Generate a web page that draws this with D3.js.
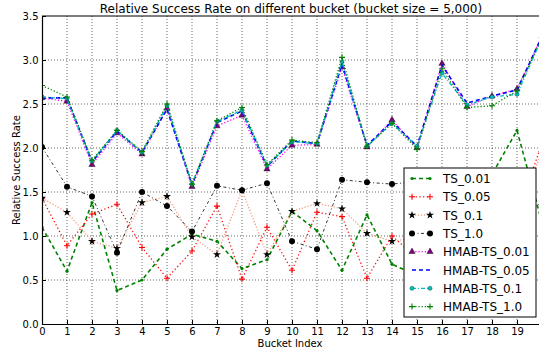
<!DOCTYPE html>
<html>
<head>
<meta charset="utf-8">
<script src="https://cdn.jsdelivr.net/npm/d3@7"></script>
<style>
  body { margin: 0; background: #fff; }
  text { font-family: "DejaVu Sans", sans-serif; }
</style>
</head>
<body>
<div id="chart"></div>
<script>
// bucket indices 0..20
const buckets = d3.range(0, 21);
const xTicks = d3.range(0, 20);
const yTicks = [0, 0.5, 1.0, 1.5, 2.0, 2.5, 3.0, 3.5];

const seriesNames = ["TS_0.01", "TS_0.05", "TS_0.1", "TS_1.0",
  "HMAB-TS_0.01", "HMAB-TS_0.05", "HMAB-TS_0.1", "HMAB-TS_1.0"];

const ts001 = [1.10, 0.60, 1.38, 0.38, 0.50, 0.85, 1.02, 0.94, 0.63, 0.73, 1.28, 1.06, 0.61, 1.24, 0.68, 0.55, 0.95, 1.25, 1.70, 2.20, 1.15];
const ts005 = [1.43, 0.89, 1.25, 1.36, 0.87, 0.52, 0.83, 1.34, 0.51, 1.10, 0.61, 1.27, 1.22, 0.52, 1.00, 0.75, 1.10, 0.90, 1.05, 1.25, 2.05];
const ts01 = [1.43, 1.27, 0.94, 0.86, 1.38, 1.45, 0.99, 0.79, 1.52, 0.79, 1.28, 1.37, 1.31, 1.03, 0.94, 0.98, 1.20, 1.05, 1.15, 1.30, 1.95];
const ts10 = [2.01, 1.56, 1.45, 0.81, 1.50, 1.34, 1.05, 1.57, 1.52, 1.60, 0.94, 0.85, 1.64, 1.61, 1.59, 1.62, 1.40, 1.50, 1.45, 1.40, 1.35];
const hmab001 = [2.57, 2.53, 1.81, 2.17, 1.93, 2.45, 1.56, 2.25, 2.37, 1.76, 2.03, 2.04, 2.92, 2.01, 2.32, 2.00, 2.96, 2.47, 2.59, 2.67, 3.27];
const hmab005 = [2.57, 2.57, 1.84, 2.19, 1.95, 2.44, 1.58, 2.29, 2.42, 1.79, 2.08, 2.05, 2.95, 2.03, 2.30, 2.02, 2.94, 2.51, 2.59, 2.66, 3.27];
const hmab01 = [2.58, 2.56, 1.85, 2.20, 1.95, 2.48, 1.59, 2.30, 2.43, 1.80, 2.07, 2.05, 2.98, 2.02, 2.28, 2.02, 2.85, 2.49, 2.58, 2.61, 3.25];
const hmab10 = [2.71, 2.58, 1.86, 2.20, 1.96, 2.50, 1.59, 2.31, 2.46, 1.81, 2.09, 2.06, 3.03, 2.02, 2.28, 1.99, 2.90, 2.46, 2.48, 2.65, 3.25];

const seriesValues = [ts001, ts005, ts01, ts10, hmab001, hmab005, hmab01, hmab10];

// line + marker styles, in the same order as seriesNames
const styles = [
  { stroke: "#008000", dash: "4,3", width: 1.6, marker: "dot", fill: "#008000" },
  { stroke: "#ff0000", dash: "1.2,2.5", width: 1.3, marker: "plus", fill: "#ff0000" },
  { stroke: "#f69a7a", dash: "1.2,1.8", width: 1.3, marker: "star", fill: "#000" },
  { stroke: "#333", dash: "3,2.5,1,2.5", width: 1.0, marker: "circle", fill: "#000" },
  { stroke: "#ff00ff", dash: "1.2,2", width: 1.3, marker: "triangle", fill: "#800080" },
  { stroke: "#0000ff", dash: "4,3", width: 1.6, marker: "none", fill: "#0000ff" },
  { stroke: "#00bfbf", dash: "4,2,1,2", width: 1.3, marker: "smallcircle", fill: "#00bfbf" },
  { stroke: "#008000", dash: "1.2,2", width: 1.3, marker: "plus", fill: "#008000" }
];

const W = 539, H = 354;
const margin = { left: 42, top: 16 };
const plotW = 500, plotH = 308;

const svg = d3.select("#chart").append("svg")
  .attr("width", W)
  .attr("height", H);

const x = d3.scaleLinear().domain([0, 20]).range([margin.left, margin.left + plotW]);
const y = d3.scaleLinear().domain([0, 3.5]).range([margin.top + plotH, margin.top]);

svg.append("defs").append("clipPath").attr("id", "plotclip")
  .append("rect")
  .attr("x", margin.left).attr("y", margin.top)
  .attr("width", plotW).attr("height", plotH);

// grid
const grid = svg.append("g");
grid.selectAll("line.vx").data(xTicks.slice(1)).enter().append("line")
  .attr("x1", d => x(d)).attr("x2", d => x(d))
  .attr("y1", margin.top).attr("y2", margin.top + plotH)
  .attr("stroke", "#000").attr("stroke-width", 0.6).attr("stroke-dasharray", "1,2");
grid.selectAll("line.hy").data(yTicks.slice(1, -1)).enter().append("line")
  .attr("y1", d => y(d)).attr("y2", d => y(d))
  .attr("x1", margin.left).attr("x2", margin.left + plotW)
  .attr("stroke", "#000").attr("stroke-width", 0.6).attr("stroke-dasharray", "1,2");

function drawMarker(g, type, fill) {
  if (type === "dot") {
    g.append("circle").attr("r", 1.6).attr("fill", fill);
  } else if (type === "circle") {
    g.append("circle").attr("r", 3).attr("fill", fill);
  } else if (type === "smallcircle") {
    g.append("circle").attr("r", 2.1).attr("fill", fill).attr("stroke", "#000").attr("stroke-width", 0.3);
  } else if (type === "plus") {
    g.append("path").attr("d", "M-3,0H3M0,-3V3").attr("stroke", fill).attr("stroke-width", 1.1);
  } else if (type === "star") {
    g.append("path").attr("d", d3.symbol(d3.symbolStar, 20)()).attr("fill", fill);
  } else if (type === "triangle") {
    g.append("path").attr("d", d3.symbol(d3.symbolTriangle, 17)()).attr("fill", fill).attr("stroke", "#000").attr("stroke-width", 0.4);
  }
}

const plot = svg.append("g").attr("clip-path", "url(#plotclip)");
const line = d3.line().x((d, i) => x(buckets[i])).y(d => y(d));

seriesValues.forEach((vals, k) => {
  const st = styles[k];
  const g = plot.append("g");
  g.append("path").datum(vals)
    .attr("d", line)
    .attr("fill", "none")
    .attr("stroke", st.stroke)
    .attr("stroke-width", st.width)
    .attr("stroke-dasharray", st.dash);
  if (st.marker !== "none") {
    vals.forEach((v, i) => {
      const mg = g.append("g").attr("transform", `translate(${x(buckets[i])},${y(v)})`);
      drawMarker(mg, st.marker, st.fill);
    });
  }
});

// axes
const xAxis = svg.append("g")
  .attr("transform", `translate(0,${margin.top + plotH})`)
  .call(d3.axisBottom(x).tickValues(xTicks).tickFormat(d3.format("d")).tickSizeInner(-4).tickSizeOuter(0).tickPadding(3.5));
const yAxis = svg.append("g")
  .attr("transform", `translate(${margin.left},0)`)
  .call(d3.axisLeft(y).tickValues(yTicks).tickFormat(d3.format(".1f")).tickSizeInner(-4).tickSizeOuter(0).tickPadding(3.5));
[xAxis, yAxis].forEach(a => {
  a.select(".domain").attr("stroke", "#000").attr("stroke-width", 1.2);
  a.selectAll(".tick text").attr("font-size", 10).attr("font-family", "DejaVu Sans").attr("fill", "#000");
});
// top spine
svg.append("line")
  .attr("x1", margin.left).attr("x2", margin.left + plotW)
  .attr("y1", margin.top).attr("y2", margin.top)
  .attr("stroke", "#000").attr("stroke-width", 1.2);

// titles
svg.append("text")
  .attr("x", margin.left + plotW / 2 - 1).attr("y", 12.5)
  .attr("text-anchor", "middle").attr("font-size", 12)
  .text("Relative Success Rate on different bucket (bucket size = 5,000)");
svg.append("text")
  .attr("x", margin.left + plotW / 2 - 2).attr("y", 347)
  .attr("text-anchor", "middle").attr("font-size", 10)
  .text("Bucket Index");
svg.append("text")
  .attr("transform", `translate(20,${margin.top + plotH / 2}) rotate(-90)`)
  .attr("text-anchor", "middle").attr("font-size", 10)
  .text("Relative Success Rate");

// legend
const lg = svg.append("g").attr("transform", "translate(404,168)");
lg.append("rect").attr("width", 132).attr("height", 149)
  .attr("fill", "#fff").attr("stroke", "#000").attr("stroke-width", 1);
seriesNames.forEach((name, k) => {
  const st = styles[k];
  const yy = 10.5 + k * 18.3;
  lg.append("line").attr("x1", 8).attr("x2", 26).attr("y1", yy).attr("y2", yy)
    .attr("stroke", st.stroke).attr("stroke-width", st.width).attr("stroke-dasharray", st.dash);
  if (st.marker !== "none") {
    [8, 26].forEach(px => {
      drawMarker(lg.append("g").attr("transform", `translate(${px},${yy})`), st.marker, st.fill);
    });
  }
  lg.append("text").attr("x", 39).attr("y", yy + 4.5).attr("font-size", 12).text(name);
});
</script>
</body>
</html>
